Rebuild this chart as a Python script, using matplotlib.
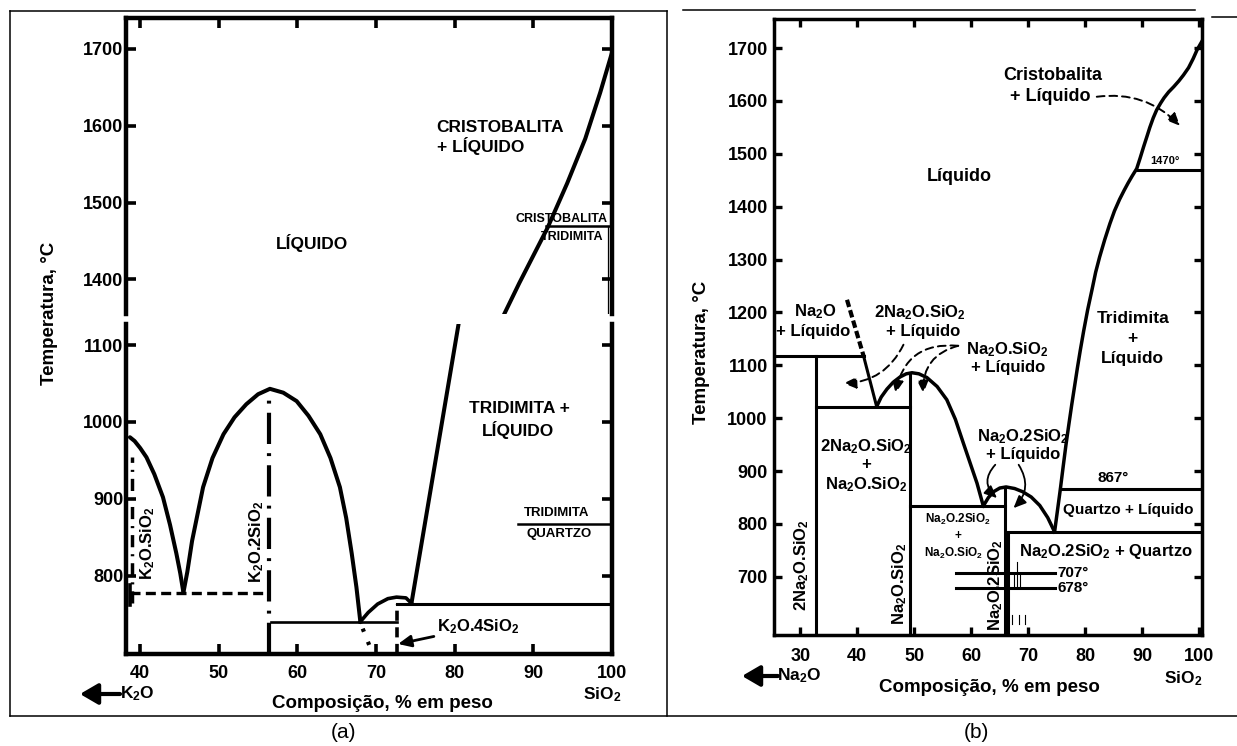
import matplotlib
matplotlib.use("Agg")
import matplotlib.pyplot as plt
from matplotlib.lines import Line2D
from matplotlib.patches import FancyArrowPatch

plt.rcParams["font.family"] = ["Liberation Sans", "DejaVu Sans"]
plt.rcParams["font.weight"] = "bold"
plt.rcParams["mathtext.default"] = "regular"

W, H = 1237, 746

# ---------------- K2O - SiO2 system (panel a) ----------------
k_xlim = (38.2, 100.0)
k_ylim_low = (698, 1128)
k_ylim_high = (1355, 1740)
k_xticks = [40, 50, 60, 70, 80, 90, 100]
k_yticks_low = [800, 900, 1000, 1100]
k_yticks_high = [1400, 1500, 1600, 1700]

k_liq_left_x = [38.7, 39.3, 40.0, 40.8, 41.8, 42.9, 43.8, 44.6, 45.1, 45.5]
k_liq_left_t = [980, 975, 966, 954, 932, 902, 866, 829, 803, 778]
k_dome_x = [45.5, 46.0, 46.6, 47.3, 48.0, 49.2, 50.6, 52.0, 53.5, 55.0, 56.5,
            58.2, 59.9, 61.4, 62.9, 64.2, 65.4, 66.2, 66.9, 67.5, 68.0]
k_dome_t = [778, 805, 845, 880, 915, 953, 984, 1006, 1023, 1036, 1043,
            1038, 1027, 1008, 984, 953, 915, 875, 829, 785, 740]
k_bump_x = [68.0, 69.0, 70.2, 71.5, 72.6, 73.8, 74.5]
k_bump_t = [740, 752, 763, 770, 772, 771, 764]
k_silica_low_x = [74.5, 80.5]
k_silica_low_t = [764, 1128]
k_silica_high_x = [86.3, 88.2, 90.1, 91.8, 94.3, 96.6, 98.5, 100.0]
k_silica_high_t = [1355, 1395, 1433, 1467, 1525, 1583, 1643, 1695]

k_eut1_t, k_eut1_x = 778, (38.7, 56.1)      # dashed
k_eut2_t, k_eut2_x = 739, (56.6, 72.6)      # solid
k_inv_t, k_inv_x = 763, (72.6, 100.0)
k_tq_t, k_tq_x = 867, (88.1, 100.0)
k_ct_t, k_ct_x = 1470, (91.6, 100.0)

k_k1s_x, k_k1s_t = 38.9, (764, 954)
k_k2s_x, k_k2s_t = 56.4, (698, 1030)
k_k4s_x, k_k4s_t = 72.6, (698, 763)
k_dot_x, k_dot_t = [68.3, 69.5], [731, 700]

# ---------------- Na2O - SiO2 system (panel b) ----------------
n_xlim = (25.4, 100.45)
n_ylim = (590, 1756)
n_xticks = [30, 40, 50, 60, 70, 80, 90, 100]
n_yticks = [700, 800, 900, 1000, 1100, 1200, 1300, 1400, 1500, 1600, 1700]

n_liq_dash_x = [38.2, 41.1]
n_liq_dash_t = [1224, 1118]
n_liq_a_x = [41.1, 43.4]
n_liq_a_t = [1118, 1022]
n_dome1_x = [43.4, 44.2, 45.2, 46.3, 47.5, 48.6, 49.6, 50.8, 52.2, 54.0, 55.7,
             57.2, 58.6, 59.8, 61.0, 62.1]
n_dome1_t = [1022, 1040, 1055, 1068, 1078, 1084, 1086, 1084, 1077, 1060, 1035,
             998, 953, 915, 877, 834]
n_dome2_x = [62.1, 63.0, 63.9, 65.0, 66.1, 67.6, 69.0, 70.5, 72.0, 73.4, 74.6]
n_dome2_t = [834, 850, 861, 868, 870, 867, 861, 851, 835, 812, 785]
n_silica_x = [74.6, 75.1, 75.6, 76.1, 76.6, 77.1, 77.6, 78.1, 78.6, 79.1, 79.7,
              80.4, 81.2, 81.8, 82.5, 83.4, 84.3, 85.1, 86.0, 86.8, 87.5, 88.2,
              89.0, 89.6, 90.2, 90.8, 91.3, 91.9, 92.5, 93.2, 93.8, 94.6, 95.5,
              96.4, 97.2, 98.1, 98.9, 99.6, 100.45]
n_silica_t = [785, 825, 865, 908, 950, 988, 1025, 1060, 1095, 1128, 1165,
              1205, 1245, 1276, 1305, 1338, 1368, 1392, 1414, 1431, 1445, 1458,
              1472, 1492, 1513, 1533, 1550, 1568, 1583, 1596, 1606, 1617, 1627,
              1638, 1649, 1663, 1680, 1697, 1713]

n_iso_t = [1118, 1022, 834, 785, 867, 1470, 707, 678]
n_iso_x0 = [25.4, 32.7, 49.2, 66.4, 75.6, 89.0, 57.3, 57.3]
n_iso_x1 = [41.1, 49.2, 65.9, 100.45, 100.45, 100.45, 74.7, 74.7]

n_comp_x = [32.7, 49.2, 65.9, 66.4]
n_comp_top = [1118, 1086, 870, 785]

# polymorph marks of Na2O.2SiO2
n_mark_x = [68.0, 67.4, 68.6, 67.1, 68.3, 69.4]
n_mark_t0 = [678, 678, 678, 611, 611, 611]
n_mark_t1 = [728, 707, 707, 628, 628, 628]


def rect(l, t, r, b):
    return [l / W, 1 - b / H, (r - l) / W, (b - t) / H]


def fx(px):
    return px / W


def fy(py):
    return 1 - py / H


fig = plt.figure(figsize=(W / 100, H / 100), dpi=100)

# table frame
frame = [((10, 11), (667, 11)), ((683, 10), (1195, 10)), ((1212, 16.5), (1237, 16.5)),
         ((10, 716), (1237, 716)), ((10, 11), (10, 716)), ((667, 11), (667, 716))]
for (x0, y0), (x1, y1) in frame:
    fig.add_artist(Line2D([fx(x0), fx(x1)], [fy(y0), fy(y1)], color="black",
                          lw=1.1, transform=fig.transFigure))

# ---------- panel (a) ----------
ax_lo = fig.add_axes(rect(126, 323.5, 612, 654))
ax_hi = fig.add_axes(rect(126, 18, 612, 314))
for ax, yl, yt in ((ax_lo, k_ylim_low, k_yticks_low), (ax_hi, k_ylim_high, k_yticks_high)):
    ax.set_xlim(*k_xlim)
    ax.set_ylim(*yl)
    ax.set_xticks(k_xticks)
    ax.set_yticks(yt)
    for s in ax.spines.values():
        s.set_linewidth(3.2)
    ax.tick_params(direction="in", length=7.5, width=2.6, labelsize=13,
                   left=True, right=True)
    ax.tick_params(axis="y", pad=2)
ax_lo.spines["top"].set_visible(False)
ax_hi.spines["bottom"].set_visible(False)
ax_lo.tick_params(top=False, bottom=True)
ax_lo.tick_params(axis="x", pad=8)
ax_hi.tick_params(top=True, bottom=False, labelbottom=False)

lw_k = 2.9
ax_lo.plot(k_liq_left_x, k_liq_left_t, color="k", lw=lw_k, solid_capstyle="round",
           solid_joinstyle="round")
ax_lo.plot(k_dome_x, k_dome_t, color="k", lw=lw_k, solid_joinstyle="round")
ax_lo.plot(k_bump_x, k_bump_t, color="k", lw=2.6, solid_joinstyle="round")
ax_lo.plot(k_silica_low_x, k_silica_low_t, color="k", lw=lw_k)
ax_hi.plot(k_silica_high_x, k_silica_high_t, color="k", lw=lw_k, solid_joinstyle="round")

ax_lo.plot(k_eut1_x, [k_eut1_t] * 2, color="k", lw=2.4, ls=(0, (3.0, 1.6)))
ax_lo.plot(k_eut2_x, [k_eut2_t] * 2, color="k", lw=1.9)
ax_lo.plot(k_inv_x, [k_inv_t] * 2, color="k", lw=2.2)
ax_lo.plot(k_tq_x, [k_tq_t] * 2, color="k", lw=1.8)
ax_hi.plot(k_ct_x, [k_ct_t] * 2, color="k", lw=1.8)
ax_hi.plot([99.55, 99.55], [1355, 1470], color="k", lw=0.9)

ax_lo.plot([k_k1s_x] * 2, k_k1s_t, color="k", lw=2.5, ls=(0, (3.5, 2.0, 0.6, 2.0)))
ax_lo.plot([k_k2s_x] * 2, k_k2s_t, color="k", lw=3.0, ls=(0, (7.5, 2.2, 0.7, 2.2)))
ax_lo.plot([k_k4s_x] * 2, k_k4s_t, color="k", lw=2.6, ls=(0, (2.8, 1.8)))
ax_lo.plot(k_dot_x, k_dot_t, color="k", lw=3.0, ls=(0, (0.8, 2.6)))
ax_lo.plot([k_eut1_x[0]] * 2, [762, 788], color="k", lw=2.6)

ax_hi.text(77.7, 1598, "CRISTOBALITA", ha="left", va="center", fontsize=12.5)
ax_hi.text(77.7, 1574, "+ LÍQUIDO", ha="left", va="center", fontsize=12.5)
ax_hi.text(93.6, 1479, "CRISTOBALITA", ha="center", va="center", fontsize=9)
ax_hi.text(94.9, 1455, "TRIDIMITA", ha="center", va="center", fontsize=9)
ax_hi.text(61.8, 1447, "LÍQUIDO", ha="center", va="center", fontsize=12.5)
ax_lo.text(88.2, 1017, "TRIDIMITA +", ha="center", va="center", fontsize=12.5)
ax_lo.text(88.0, 990, "LÍQUIDO", ha="center", va="center", fontsize=12.5)
ax_lo.text(92.9, 881, "TRIDIMITA", ha="center", va="center", fontsize=9.5)
ax_lo.text(93.3, 854, "QUARTZO", ha="center", va="center", fontsize=9.5)
ax_lo.text(40.9, 842, r"K$_2$O.SiO$_2$", rotation=90, ha="center", va="center", fontsize=12)
ax_lo.text(54.8, 844, r"K$_2$O.2SiO$_2$", rotation=90, ha="center", va="center", fontsize=12)
ax_lo.annotate(r"K$_2$O.4SiO$_2$", xy=(72.8, 711), xytext=(77.7, 733),
               ha="left", va="center", fontsize=12,
               arrowprops=dict(arrowstyle="-|>,head_length=0.55,head_width=0.25",
                               mutation_scale=14, lw=2.0, color="k",
                               shrinkA=0, shrinkB=0))

fig.text(fx(49), fy(313), "Temperatura, °C", rotation=90, ha="center", va="center",
         fontsize=13.5)
fig.text(fx(382), fy(704), "Composição, % em peso", ha="center", va="center",
         fontsize=13.5)
fig.text(fx(120), fy(694), r"K$_2$O", ha="left", va="center", fontsize=12.5)
fig.add_artist(FancyArrowPatch((fx(120), fy(694)), (fx(80), fy(694)),
                               transform=fig.transFigure,
                               arrowstyle="-|>,head_length=0.6,head_width=0.35",
                               mutation_scale=18, lw=3, color="k",
                               shrinkA=0, shrinkB=0))
fig.text(fx(602), fy(695), r"SiO$_2$", ha="center", va="center", fontsize=12.5)
fig.text(fx(344), fy(733), "(a)", ha="center", va="center", fontsize=15,
         fontweight="normal")

# ---------- panel (b) ----------
axb = fig.add_axes(rect(774, 18.5, 1202, 635))
axb.set_xlim(*n_xlim)
axb.set_ylim(*n_ylim)
axb.set_xticks(n_xticks)
axb.set_yticks(n_yticks)
for s in axb.spines.values():
    s.set_linewidth(2.5)
axb.tick_params(direction="in", length=6, width=2.4, labelsize=13,
                top=True, right=True)
axb.tick_params(axis="y", pad=4.5)
axb.tick_params(axis="x", pad=9.5)

lw_n = 2.2
axb.plot(n_liq_dash_x, n_liq_dash_t, color="k", lw=3.0, ls=(0, (1.8, 0.8)))
axb.plot(n_liq_a_x, n_liq_a_t, color="k", lw=lw_n)
axb.plot(n_dome1_x, n_dome1_t, color="k", lw=2.5, solid_joinstyle="round")
axb.plot(n_dome2_x, n_dome2_t, color="k", lw=2.5, solid_joinstyle="round")
axb.plot(n_silica_x, n_silica_t, color="k", lw=2.5, solid_joinstyle="round")
for t, x0, x1 in zip(n_iso_t, n_iso_x0, n_iso_x1):
    axb.plot([x0, x1], [t, t], color="k", lw=lw_n)
for x, top in zip(n_comp_x, n_comp_top):
    axb.plot([x, x], [n_ylim[0], top], color="k", lw=lw_n)
for x, t0, t1 in zip(n_mark_x, n_mark_t0, n_mark_t1):
    axb.plot([x, x], [t0, t1], color="k", lw=0.8)

axb.text(74.3, 1649, "Cristobalita", ha="center", va="center", fontsize=13)
axb.text(73.8, 1608, "+ Líquido", ha="center", va="center", fontsize=13)
axb.text(57.8, 1458, "Líquido", ha="center", va="center", fontsize=13)
axb.text(94.0, 1486, "1470°", ha="center", va="center", fontsize=8)
axb.text(88.3, 1189, "Tridimita", ha="center", va="center", fontsize=12.5)
axb.text(88.3, 1151, "+", ha="center", va="center", fontsize=12.5)
axb.text(88.3, 1113, "Líquido", ha="center", va="center", fontsize=12.5)
axb.text(32.6, 1201, r"Na$_2$O", ha="center", va="center", fontsize=12)
axb.text(32.3, 1164, "+ Líquido", ha="center", va="center", fontsize=12)
axb.text(51.0, 1199, r"2Na$_2$O.SiO$_2$", ha="center", va="center", fontsize=12)
axb.text(51.5, 1164, "+ Líquido", ha="center", va="center", fontsize=12)
axb.text(66.4, 1130, r"Na$_2$O.SiO$_2$", ha="center", va="center", fontsize=12)
axb.text(66.4, 1096, "+ Líquido", ha="center", va="center", fontsize=12)
axb.text(41.6, 946, r"2Na$_2$O.SiO$_2$", ha="center", va="center", fontsize=12)
axb.text(41.6, 912, "+", ha="center", va="center", fontsize=12)
axb.text(41.6, 874, r"Na$_2$O.SiO$_2$", ha="center", va="center", fontsize=12)
axb.text(69.0, 965, r"Na$_2$O.2SiO$_2$", ha="center", va="center", fontsize=12)
axb.text(69.0, 931, "+ Líquido", ha="center", va="center", fontsize=12)
axb.text(84.8, 887, "867°", ha="center", va="center", fontsize=11)
axb.text(87.5, 827, "Quartzo + Líquido", ha="center", va="center", fontsize=11)
axb.text(83.6, 748, r"Na$_2$O.2SiO$_2$ + Quartzo", ha="center", va="center", fontsize=12)
axb.text(57.7, 808, r"Na$_2$O.2SiO$_2$", ha="center", va="center", fontsize=8.5)
axb.text(57.7, 777, "+", ha="center", va="center", fontsize=8.5)
axb.text(56.9, 745, r"Na$_2$O.SiO$_2$", ha="center", va="center", fontsize=8.5)
axb.text(75.1, 707, "707°", ha="left", va="center", fontsize=11)
axb.text(75.1, 678, "678°", ha="left", va="center", fontsize=11)
axb.text(30.3, 723, r"2Na$_2$O.SiO$_2$", rotation=90, ha="center", va="center", fontsize=12)
axb.text(47.5, 688, r"Na$_2$O.SiO$_2$", rotation=90, ha="center", va="center", fontsize=12)
axb.text(64.2, 684, r"Na$_2$O.2SiO$_2$", rotation=90, ha="center", va="center", fontsize=12)


def curved(ax, start, end, rad, dashed=True, lw=1.4):
    ax.annotate("", xy=end, xytext=start,
                arrowprops=dict(arrowstyle="-|>,head_length=0.5,head_width=0.22",
                                mutation_scale=15, lw=lw, color="k",
                                linestyle=(0, (4, 2.5)) if dashed else "-",
                                connectionstyle=f"arc3,rad={rad}",
                                shrinkA=0, shrinkB=0))


curved(axb, (48.1, 1139), (37.6, 1066), -0.3)
curved(axb, (57.7, 1137), (46.7, 1047), 0.45)
curved(axb, (57.7, 1137), (51.6, 1047), 0.4)
curved(axb, (82.0, 1608), (96.6, 1553), -0.25)
curved(axb, (64.2, 912), (64.5, 849), 0.5, dashed=False, lw=1.3)
curved(axb, (68.3, 912), (67.4, 830), -0.4, dashed=False, lw=1.3)

fig.text(fx(701), fy(352), "Temperatura, °C", rotation=90, ha="center", va="center",
         fontsize=13.5)
fig.text(fx(989), fy(688), "Composição, % em peso", ha="center", va="center",
         fontsize=13.5)
fig.text(fx(777), fy(676), r"Na$_2$O", ha="left", va="center", fontsize=12.5)
fig.add_artist(FancyArrowPatch((fx(778), fy(676)), (fx(742), fy(676)),
                               transform=fig.transFigure,
                               arrowstyle="-|>,head_length=0.6,head_width=0.35",
                               mutation_scale=18, lw=3, color="k",
                               shrinkA=0, shrinkB=0))
fig.text(fx(1183), fy(679), r"SiO$_2$", ha="center", va="center", fontsize=12.5)
fig.text(fx(976), fy(733), "(b)", ha="center", va="center", fontsize=15,
         fontweight="normal")

fig.savefig("out.png", dpi=100)
